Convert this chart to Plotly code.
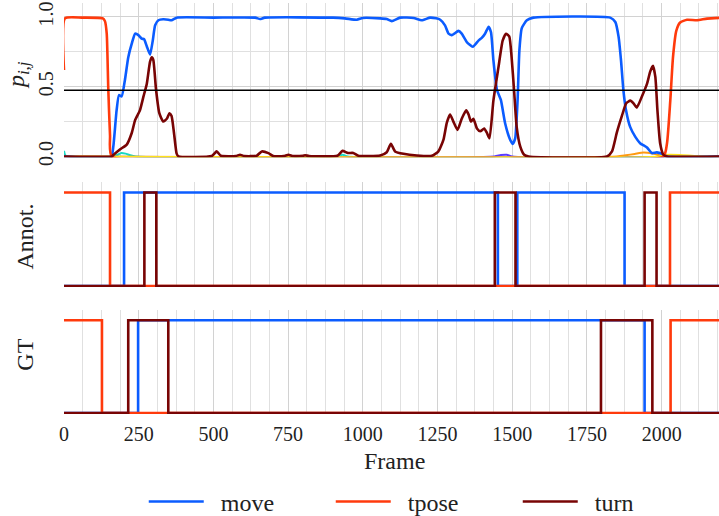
import plotly.graph_objects as go
from plotly.subplots import make_subplots

# ---------------- data ----------------
X_MAX = 2192
THRESHOLD = 0.475

move_f = [0, 158, 165, 176, 184, 193, 204, 215, 227, 238, 249, 260, 268, 277, 288, 297, 305, 316, 332, 349,
          360, 377, 500, 640, 656, 672, 900, 940, 980, 1000, 1058, 1080, 1097, 1125, 1170, 1197, 1225, 1245,
          1259, 1275, 1287, 1298, 1306, 1320, 1331, 1348, 1368, 1387, 1398, 1409, 1421, 1429, 1437, 1449,
          1462, 1476, 1493, 1502, 1510, 1518, 1524, 1532, 1549, 1571, 1828, 1845, 1856, 1864, 1872, 1881,
          1895, 1912, 1928, 1951, 1967, 1984, 2001, 2018, 2192]
move_p = [0, 0, 0.07, 0.33, 0.44, 0.43, 0.55, 0.71, 0.81, 0.88, 0.87, 0.845, 0.84, 0.79, 0.73, 0.83, 0.94, 0.976,
          0.983, 0.98, 0.976, 0.995, 0.995, 0.995, 0.985, 0.995, 0.995, 0.99, 0.98, 0.993, 0.99, 0.985, 0.97,
          0.995, 0.993, 0.976, 0.995, 0.99, 0.98, 0.94, 0.88, 0.87, 0.88, 0.90, 0.88, 0.82, 0.786, 0.83, 0.85,
          0.88, 0.93, 0.89, 0.69, 0.476, 0.405, 0.24, 0.12, 0.09, 0.13, 0.405, 0.76, 0.92, 0.976, 0.995, 0.995,
          0.964, 0.857, 0.69, 0.476, 0.33, 0.21, 0.14, 0.095, 0.064, 0.024, 0.029, 0.019, 0.0, 0.0]

tpose_f = [0, 3, 60, 130, 137, 143, 148, 154, 160, 2006, 2018, 2029, 2038, 2049, 2062, 2085, 2118, 2152, 2192]
tpose_p = [0.62, 0.99, 0.995, 0.99, 0.97, 0.88, 0.5, 0.15, 0.0, 0.0, 0.095, 0.40, 0.71, 0.90, 0.96, 0.98, 0.976,
           0.988, 0.993]

turn_f = [0, 160, 165, 187, 210, 227, 238, 254, 266, 277, 288, 294, 299, 308, 319, 332, 344, 353, 360, 368, 377,
          383, 495, 511, 525, 575, 589, 603, 645, 662, 684, 700, 735, 751, 767, 800, 807, 820, 915, 932, 950,
          968, 985, 1058, 1080, 1094, 1108, 1136, 1181, 1231, 1253, 1270, 1281, 1292, 1303, 1317, 1331, 1346,
          1354, 1362, 1370, 1382, 1393, 1406, 1415, 1424, 1437, 1454, 1468, 1479, 1490, 1498, 1506, 1515,
          1527, 1540, 1555, 1817, 1834, 1850, 1867, 1881, 1895, 1906, 1917, 1934, 1951, 1962, 1971, 1979,
          1986, 1995, 2006, 2018, 2192]
turn_p = [0, 0, 0.01, 0.05, 0.085, 0.17, 0.26, 0.33, 0.43, 0.52, 0.68, 0.71, 0.69, 0.48, 0.31, 0.25, 0.27, 0.31,
          0.29, 0.17, 0.02, 0.0, 0.003, 0.036, 0.005, 0.003, 0.012, 0.003, 0.005, 0.036, 0.024, 0.003, 0.003,
          0.012, 0.003, 0.005, 0.008, 0.003, 0.005, 0.04, 0.025, 0.025, 0.005, 0.007, 0.03, 0.09, 0.036, 0.019,
          0.007, 0.005, 0.036, 0.12, 0.24, 0.30, 0.25, 0.19, 0.27, 0.33, 0.30, 0.25, 0.27, 0.20, 0.18, 0.20,
          0.17, 0.13, 0.40, 0.64, 0.83, 0.88, 0.86, 0.71, 0.48, 0.21, 0.07, 0.012, 0.0, 0.0, 0.036, 0.17, 0.29,
          0.38, 0.40, 0.38, 0.35, 0.43, 0.52, 0.61, 0.65, 0.57, 0.33, 0.095, 0.012, 0.0, 0.0]

# minor classes (not in legend)
cyan_f = [0, 6, 160, 178, 192, 206, 222, 240, 915, 932, 950, 2192]
cyan_p = [0.04, 0.005, 0.0, 0.01, 0.025, 0.02, 0.008, 0.0, 0.0, 0.012, 0.0, 0.0]
orange_f = [0, 1850, 1880, 1910, 1940, 1970, 1990, 2010, 2192]
orange_p = [0, 0.0, 0.008, 0.018, 0.028, 0.02, 0.01, 0.0, 0.0]
yellow_f = [0, 1990, 2010, 2060, 2100, 2140, 2192]
yellow_p = [0, 0.0, 0.01, 0.01, 0.005, 0.0, 0.0]
purple_f = [0, 1440, 1462, 1482, 1500, 2192]
purple_p = [0, 0.0, 0.01, 0.012, 0.0, 0.0]

# step annotations (change points)
annot_move_f = [0, 201, 1452, 1517, 1876, X_MAX]
annot_move_v = [0, 1, 0, 1, 0, 0]
annot_tpose_f = [0, 154, 2028, X_MAX]
annot_tpose_v = [1, 0, 1, 1]
annot_turn_f = [0, 269, 309, 1442, 1511, 1943, 1983, X_MAX]
annot_turn_v = [0, 1, 0, 1, 0, 1, 0, 0]

gt_move_f = [0, 248, 1943, X_MAX]
gt_move_v = [0, 1, 0, 0]
gt_tpose_f = [0, 127, 2030, X_MAX]
gt_tpose_v = [1, 0, 1, 1]
gt_turn_f = [0, 215, 349, 1797, 1969, X_MAX]
gt_turn_v = [0, 1, 0, 1, 0, 0]

class_names = ["move", "tpose", "turn"]
x_ticks = [0, 250, 500, 750, 1000, 1250, 1500, 1750, 2000]
p_ticks = [0.0, 0.5, 1.0]
p_tick_text = ["0.0", "0.5", "1.0"]

# ---------------- style ----------------
C_MOVE = "#0b5cff"
C_TPOSE = "#ff3a0c"
C_TURN = "#780404"
FONT = "'Liberation Serif', 'Times New Roman', Times, serif"
GRID = "#d2d2d2"
GRID_MINOR = "#e0e0e0"
LW = 2.6

fig = make_subplots(rows=3, cols=1, shared_xaxes=True)

for f, p, c in [(cyan_f, cyan_p, "#19d9c4"), (purple_f, purple_p, "#5b3cff"),
                (orange_f, orange_p, "#ff9a10"), (yellow_f, yellow_p, "#ffe21a")]:
    fig.add_trace(go.Scatter(x=f, y=p, mode="lines", line=dict(color=c, width=2, shape="spline", smoothing=0.6),
                             showlegend=False, hoverinfo="skip"), row=1, col=1)

for name, f, p, c in [(class_names[0], move_f, move_p, C_MOVE), (class_names[1], tpose_f, tpose_p, C_TPOSE),
                      (class_names[2], turn_f, turn_p, C_TURN)]:
    fig.add_trace(go.Scatter(x=f, y=p, mode="lines", name="\u2002" + name, legendgroup=name,
                             line=dict(color=c, width=LW, shape="spline", smoothing=0.5)), row=1, col=1)

for row, series in [(2, [("move", annot_move_f, annot_move_v, C_MOVE), ("tpose", annot_tpose_f, annot_tpose_v, C_TPOSE),
                         ("turn", annot_turn_f, annot_turn_v, C_TURN)]),
                    (3, [("move", gt_move_f, gt_move_v, C_MOVE), ("tpose", gt_tpose_f, gt_tpose_v, C_TPOSE),
                         ("turn", gt_turn_f, gt_turn_v, C_TURN)])]:
    for name, f, v, c in series:
        fig.add_trace(go.Scatter(x=f, y=v, mode="lines", name=name, legendgroup=name, showlegend=False,
                                 line=dict(color=c, width=LW, shape="hv")), row=row, col=1)

fig.add_hline(y=THRESHOLD, line=dict(color="black", width=1.5), row=1, col=1)

xcommon = dict(range=[0, X_MAX], tickvals=x_ticks, showgrid=True, gridcolor=GRID, gridwidth=1,
               zeroline=False, showline=False, ticks="", automargin=False,
               minor=dict(dtick=62.5, tick0=0, showgrid=True, gridcolor=GRID_MINOR, gridwidth=1))
fig.update_xaxes(**xcommon)
fig.update_xaxes(showticklabels=False, row=1, col=1)
fig.update_xaxes(showticklabels=False, row=2, col=1)
fig.update_xaxes(showticklabels=True, tickfont=dict(family=FONT, size=20, color="#222"),
                 ticklabelstandoff=6, row=3, col=1)

fig.update_yaxes(domain=[0.625, 1.0], range=[-0.005, 1.1], tickvals=p_ticks, ticktext=p_tick_text,
                 tickangle=-90, tickfont=dict(family=FONT, size=20, color="#222"), showgrid=True,
                 gridcolor=GRID, zeroline=False, showline=False, ticks="", ticklabelstandoff=6,
                 automargin=False,
                 minor=dict(dtick=0.25, tick0=0, showgrid=True, gridcolor=GRID_MINOR),
                 row=1, col=1)
for row, dom in [(2, [0.309, 0.564]), (3, [0.0, 0.253])]:
    fig.update_yaxes(domain=dom, range=[-0.01, 1.11], showticklabels=False, showgrid=False, zeroline=False,
                     showline=False, ticks="", automargin=False, row=row, col=1)

annots = [
    dict(text="<i>p</i><sub><i>i,j</i></sub>", x=-0.07, y=0.825, textangle=-90, size=24),
    dict(text="Annot.", x=-0.06, y=0.431, textangle=-90, size=24),
    dict(text="GT", x=-0.06, y=0.1436, textangle=-90, size=24),
    dict(text="Frame", x=0.505, y=-0.114, textangle=0, size=24),
]
for a in annots:
    fig.add_annotation(text=a["text"], xref="paper", yref="paper", x=a["x"], y=a["y"], textangle=a["textangle"],
                       showarrow=False, xanchor="center", yanchor="middle",
                       font=dict(family=FONT, size=a["size"], color="#222"))

fig.update_layout(
    width=719, height=516,
    margin=dict(l=64, r=0, t=3, b=102, autoexpand=False),
    paper_bgcolor="white", plot_bgcolor="white",
    showlegend=True,
    legend=dict(orientation="h", x=0.55, xanchor="center", y=-0.214, yanchor="middle",
                font=dict(family=FONT, size=24, color="#222"), itemwidth=55,
                entrywidth=117, entrywidthmode="pixels", bgcolor="rgba(0,0,0,0)"),
    hovermode=False,
)

fig.write_html("out.html", config={"displayModeBar": False},
               post_script="document.body.style.margin='0';document.body.style.overflow='hidden';")
